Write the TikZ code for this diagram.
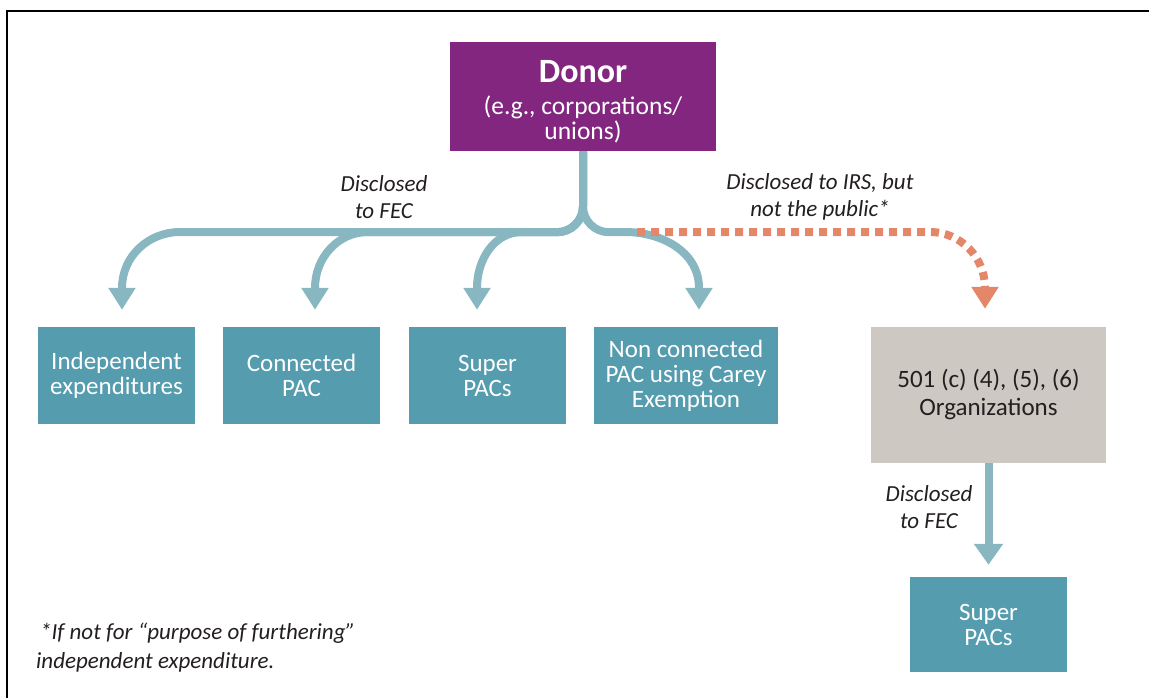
\documentclass[tikz,border=0pt]{standalone}
\usepackage{fontspec}
\setmainfont{Carlito}
\usetikzlibrary{arrows.meta, positioning, calc}

\definecolor{donorpurple}{RGB}{130,38,128}
\definecolor{boxteal}{RGB}{84,156,174}
\definecolor{flowteal}{RGB}{136,183,194}
\definecolor{irsorange}{RGB}{228,135,105}
\definecolor{orggrey}{RGB}{205,200,193}
\definecolor{inkgrey}{RGB}{35,31,32}

\tikzset{
    tealbox/.style={fill=boxteal, text=white, inner sep=0pt, align=center,
        minimum width=157pt, minimum height=97pt,
        font=\fontsize{25}{25}\selectfont},
    flow/.style={draw=flowteal, line width=8pt,
        -{Triangle[width=26pt, length=22pt]}, shorten >=17pt},
    irsflow/.style={draw=irsorange, line width=8pt, dash pattern=on 8pt off 6pt,
        -{Triangle[width=26pt, length=22pt]}, shorten >=18pt},
    remark/.style={text=inkgrey, align=center, inner sep=0pt,
        font=\fontsize{23}{27}\selectfont\itshape}
}

\begin{document}
\begin{tikzpicture}[x=1pt, y=-1pt]
    \useasboundingbox (0,0) rectangle (1149,698);

    % Frame
    \draw[line width=2pt] (7,698) -- (7,11) -- (1149,11);

    % Donor
    \node[fill=donorpurple, text=white, inner sep=0pt, align=center,
        minimum width=266pt, minimum height=109pt,
        font=\fontsize{25.5}{25}\selectfont] (donor) at (583,96.5)
        {{\fontsize{34}{34}\selectfont\bfseries\rule{0pt}{33pt}Donor}\\[6.5pt]
         (e.g., corporations/\\unions)};

    % Disclosed to FEC
    \node[tealbox] (indep) at (116.5,375.5) {Independent\\expenditures};
    \node[tealbox] (conn) at (301.5,375.5) {Connected\\PAC};
    \node[tealbox] (super) at (487.5,375.5) {Super\\PACs};
    \node[tealbox, minimum width=184pt] (carey) at (686,375.5)
        {Non connected\\PAC using Carey\\Exemption};

    % 501 (c) organizations
    \node[fill=orggrey, text=inkgrey, inner sep=0pt, align=center,
        minimum width=235pt, minimum height=136pt,
        font=\fontsize{25}{28}\selectfont] (org) at (988.5,395)
        {501 (c) (4), (5), (6)\\Organizations};
    \node[tealbox, minimum height=95pt] (super2) at (988.5,624.5) {Super\\PACs};

    % Flows from the donor
    \draw[flow] (donor.south) -- ++(0,55) to[out=270,in=0] ++(-26,26)
        -- (180,232) to[out=180,in=90] (122,288) -- ([xshift=5.5pt]indep.north);
    \draw[flow] (donor.south) -- ++(0,55) to[out=270,in=0] ++(-26,26)
        -- (368,232) to[out=180,in=90] (315,288) -- ([xshift=13.5pt]conn.north);
    \draw[flow] (donor.south) -- ++(0,55) to[out=270,in=0] ++(-26,26)
        -- (522,232) to[out=180,in=90] (477,288) -- ([xshift=-10.5pt]super.north);
    \draw[flow] (donor.south) -- ++(0,55) to[out=270,in=180] ++(26,26)
        -- (625,232) to[out=0,in=90] (699,288) -- ([xshift=13pt]carey.north);

    % Disclosed to IRS
    \coordinate (irsstart) at (637,232);
    \draw[irsflow] (irsstart) -- (930,232) to[out=0,in=90] (985,288)
        -- ([xshift=-3.5pt]org.north);
    \draw[flow, -{Triangle[width=28pt, length=21pt]}, shorten >=12pt]
        (org.south) -- (super2.north);

    % Labels
    \node[remark] (fec) at (384,197) {Disclosed\\to FEC};
    \node[remark] (irs) at (820,197) {Disclosed to IRS, but\\not the public*};
    \node[remark] (fec2) at (929,507) {Disclosed\\to FEC};

    % Footnote
    \node[remark, align=left, anchor=west, font=\fontsize{23}{29}\selectfont\itshape]
        (note) at (36,648)
        {\hspace{4pt}*If not for “purpose of furthering”\\independent expenditure.};
\end{tikzpicture}
\end{document}
